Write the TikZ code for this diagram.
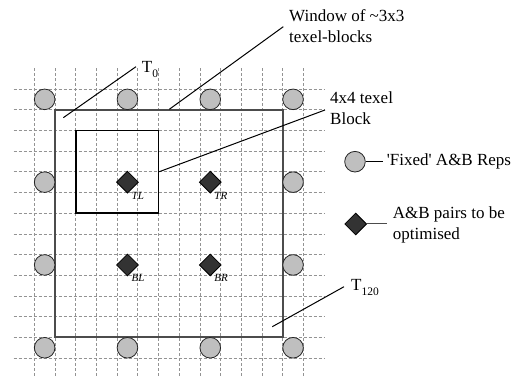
\documentclass[tikz,border=0pt]{standalone}
\usepackage{fontspec}
\setmainfont{Liberation Serif}
\usetikzlibrary{shapes.geometric}
\newcommand{\lowsub}[1]{\raisebox{-5pt}{\fontsize{11.5}{12}\selectfont #1}}
\tikzset{
  gridline/.style={gray!85,line width=.7pt,dash pattern=on 3pt off 2pt},
  window/.style={black!70,line width=1.9pt},
  block/.style={black,line width=1.7pt},
  rep/.style={circle,draw=black!85,fill=black!25,line width=.8pt,minimum size=20.6pt,inner sep=0pt},
  pair/.style={diamond,draw=black,fill=black!80,line width=.8pt,minimum size=22pt,inner sep=0pt},
  leader/.style={black,line width=1pt},
  labeltext/.style={inner sep=0pt,align=left,font=\fontsize{17}{21}\selectfont},
  cornerlabel/.style={inner sep=0pt,font=\fontsize{11}{12}\selectfont\itshape}
}
\begin{document}
\begin{tikzpicture}[x=1pt,y=-1pt]
\useasboundingbox (0,0) rectangle (520,377);
% texel grid, blocks and reps
\begin{scope}[shift={(34.3,89)},x=20.7pt,y=-20.7pt]
\foreach \i in {0,...,13} \draw[gridline] (\i,-1) -- (\i,13.85);
\foreach \j in {0,...,13} \draw[gridline] (-1,\j) -- (14,\j);
\draw[window] (1,1) rectangle (12,12);
\draw[block] (2,2) rectangle (6,6);
\foreach \c/\r in {0/0,4/0,8/0,12/0,0/4,12/4,0/8,12/8,0/12,4/12,8/12,12/12}
  \node[rep] (rep-\c-\r) at (\c+.5,\r+.5) {};
\foreach \c/\r/\l in {4/4/TL,8/4/TR,4/8/BL,8/8/BR}{
  \node[pair] (\l) at (\c+.5,\r+.5) {};
  \node[cornerlabel,anchor=base west] (\l-txt) at ([xshift=4pt,yshift=-17pt]\l.center) {\l};
}
\end{scope}
% labels (base = last line)
\node[labeltext,anchor=base west] (windowtxt) at (289,42.3) {Window of \textasciitilde3x3\\texel-blocks};
\node[labeltext,anchor=base west] (blocktxt) at (330,125) {4x4 texel\\Block};
\node[labeltext,anchor=base west] (tzero) at (141.7,72.7) {T\lowsub{0}};
\node[labeltext,anchor=base west] (tlast) at (351,290.7) {T\lowsub{120}};
\coordinate (windowa) at (169.3,109.3);
\coordinate (windowb) at (283.3,26.7);
\coordinate (blocka) at (159.3,171.7);
\coordinate (blockb) at (325,110);
\coordinate (tzeroa) at (63.3,117.7);
\coordinate (tzerob) at (136,66.7);
\coordinate (tlasta) at (272.3,326.7);
\coordinate (tlastb) at (344,286.7);
\draw[leader] (windowa) -- (windowb);
\draw[leader] (blocka) -- (blockb);
\draw[leader] (tzeroa) -- (tzerob);
\draw[leader] (tlasta) -- (tlastb);
% legend
\node[rep] (fixedrep) at (355,161.7) {};
\node[labeltext,anchor=base west] (fixedtxt) at (386.7,166) {\textquotesingle Fixed\textquotesingle{} A\&B Reps};
\draw[leader] (fixedrep.east) -- (fixedrep.east -| 383,0);
\node[pair] (optpair) at (355.7,224) {};
\node[labeltext,anchor=base west] (opttxt) at (392.7,239.8) {A\&B pairs to be\\optimised};
\draw[leader,black!70] (optpair.east) -- (optpair.east -| 387.3,0);
\end{tikzpicture}
\end{document}
